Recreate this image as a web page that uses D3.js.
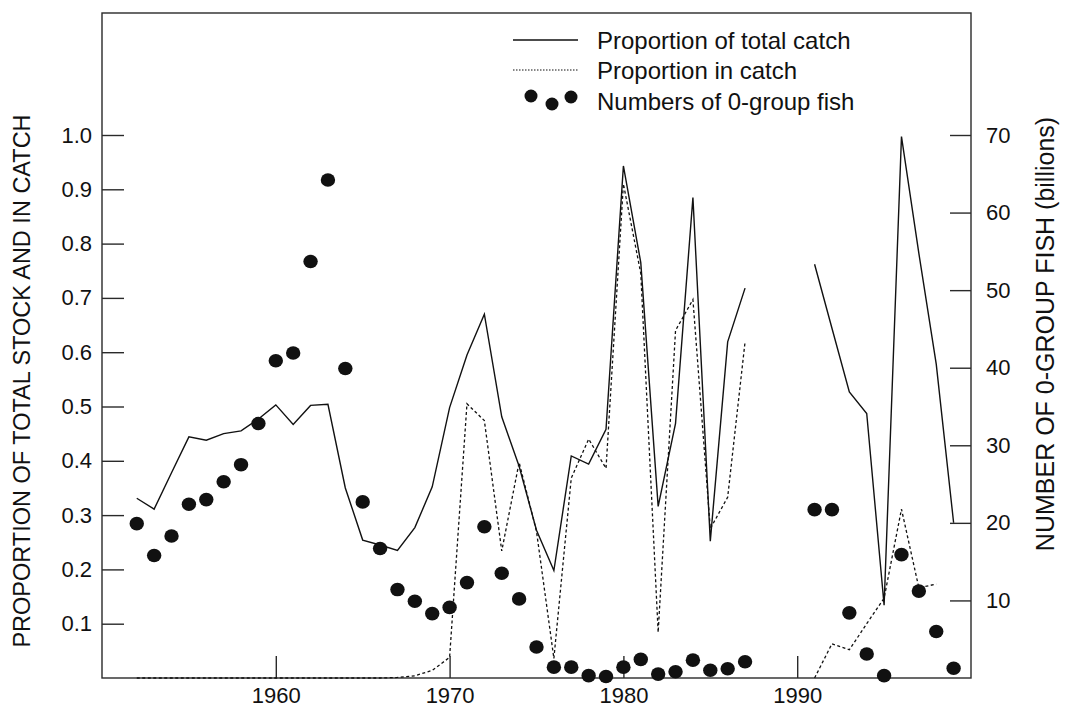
<!DOCTYPE html>
<html>
<head>
<meta charset="utf-8">
<script src="https://cdn.jsdelivr.net/npm/d3@7"></script>
<style>
  html, body { margin: 0; padding: 0; background: #fff; }
  svg { display: block; font-family: "Liberation Sans", Arial, Helvetica, sans-serif; }
</style>
</head>
<body>
<div id="chart"></div>
<script>
// Years covered by the series (gap 1988-1990 has no data)
const years = [1952, 1953, 1954, 1955, 1956, 1957, 1958, 1959, 1960, 1961,
  1962, 1963, 1964, 1965, 1966, 1967, 1968, 1969, 1970, 1971,
  1972, 1973, 1974, 1975, 1976, 1977, 1978, 1979, 1980, 1981,
  1982, 1983, 1984, 1985, 1986, 1987, 1988, 1989, 1990, 1991,
  1992, 1993, 1994, 1995, 1996, 1997, 1998, 1999];

// Proportion of total catch (solid line, left axis)
const totalCatch = [0.331, 0.311, 0.378, 0.444, 0.438, 0.450, 0.455, 0.477, 0.503, 0.467,
  0.502, 0.504, 0.350, 0.254, 0.245, 0.235, 0.277, 0.352, 0.498, 0.595,
  0.670, 0.481, 0.390, 0.272, 0.198, 0.409, 0.394, 0.458, 0.943, 0.765,
  0.316, 0.469, 0.885, 0.252, 0.619, 0.718, null, null, null, 0.762,
  0.644, 0.527, 0.487, 0.134, 0.997, 0.782, 0.578, 0.286];

// Proportion in catch (dotted line, left axis)
const inCatch = [0, 0, 0, 0, 0, 0, 0, 0, 0, 0,
  0, 0, 0, 0, 0, 0.001, 0.004, 0.014, 0.038, 0.505,
  0.474, 0.234, 0.397, 0.270, 0.036, 0.368, 0.440, 0.386, 0.910, 0.745,
  0.084, 0.640, 0.697, 0.275, 0.333, 0.619, null, null, null, 0.0,
  0.063, 0.052, 0.100, 0.147, 0.311, 0.166, 0.173, null];

// Numbers of 0-group fish in billions (dots, right axis)
const fish0 = [19.9, 15.8, 18.3, 22.4, 23.0, 25.3, 27.5, 32.8, 40.9, 41.9,
  53.7, 64.2, 39.9, 22.7, 16.7, 11.4, 9.9, 8.3, 9.1, 12.3,
  19.5, 13.5, 10.2, 4.0, 1.4, 1.4, 0.3, 0.2, 1.4, 2.4,
  0.5, 0.8, 2.3, 1.0, 1.2, 2.1, null, null, null, 21.7,
  21.7, 8.4, 3.1, 0.3, 15.9, 11.2, 6.0, 1.25];

// Tick values
const xTicks = [1960, 1970, 1980, 1990];
const leftTicks = [0.1, 0.2, 0.3, 0.4, 0.5, 0.6, 0.7, 0.8, 0.9, 1.0];
const rightTicks = [10, 20, 30, 40, 50, 60, 70];

const legendLabels = ['Proportion of total catch', 'Proportion in catch', 'Numbers of 0-group fish'];

const W = 1067, H = 709;
const m = { l: 102, r: 971, t: 13, b: 678 };
const ink = '#111', axisInk = '#2a2a2a';

const svg = d3.select('#chart').append('svg').attr('width', W).attr('height', H);

const x = d3.scaleLinear().domain([1950, 2000]).range([m.l, m.r]);
const yL = d3.scaleLinear().domain([0, 1]).range([m.b, 135]);
const yR = d3.scaleLinear().domain([0, 70]).range([m.b, 135]);

// Frame
svg.append('rect')
  .attr('x', m.l).attr('y', m.t)
  .attr('width', m.r - m.l).attr('height', m.b - m.t)
  .attr('fill', 'none').attr('stroke', axisInk).attr('stroke-width', 1.4);

// Axes (ticks point inward)
function styleAxis(g) {
  g.select('.domain').remove();
  g.selectAll('line').attr('stroke', axisInk).attr('stroke-width', 1.4);
  g.selectAll('text').attr('fill', ink).style('font-size', '22px');
}

svg.append('g').attr('transform', `translate(${m.l},0)`)
  .call(d3.axisLeft(yL).tickValues(leftTicks).tickSize(-22).tickPadding(10).tickFormat(d3.format('.1f')))
  .call(styleAxis);

svg.append('g').attr('transform', `translate(${m.r},0)`)
  .call(d3.axisRight(yR).tickValues(rightTicks).tickSize(-21).tickPadding(15).tickFormat(d3.format('d')))
  .call(styleAxis);

svg.append('g').attr('transform', `translate(0,${m.b})`)
  .call(d3.axisBottom(x).tickValues(xTicks).tickSize(-22).tickPadding(9).tickFormat(d3.format('d')))
  .call(styleAxis);

// Axis titles
svg.append('text')
  .attr('transform', `translate(22,381) rotate(-90)`)
  .attr('text-anchor', 'middle').attr('dominant-baseline', 'central')
  .attr('fill', ink).style('font-size', '23.5px')
  .text('PROPORTION OF TOTAL STOCK AND IN CATCH');

svg.append('text')
  .attr('transform', `translate(1045,334) rotate(-90)`)
  .attr('text-anchor', 'middle').attr('dominant-baseline', 'central')
  .attr('fill', ink).style('font-size', '25px')
  .text('NUMBER OF 0-GROUP FISH (billions)');

// Series
const rows = years.map((yr, i) => ({ yr, tc: totalCatch[i], ic: inCatch[i], f: fish0[i] }));

const lineTC = d3.line().defined(d => d.tc != null).x(d => x(d.yr)).y(d => yL(d.tc));
const lineIC = d3.line().defined(d => d.ic != null).x(d => x(d.yr)).y(d => yL(d.ic));

svg.append('path').datum(rows)
  .attr('d', lineIC)
  .attr('fill', 'none').attr('stroke', ink).attr('stroke-width', 1.3)
  .attr('stroke-dasharray', '3,2.5');

svg.append('path').datum(rows)
  .attr('d', lineTC)
  .attr('fill', 'none').attr('stroke', ink).attr('stroke-width', 1.4);

svg.selectAll('ellipse.fish').data(rows.filter(d => d.f != null)).enter().append('ellipse')
  .attr('class', 'fish')
  .attr('cx', d => x(d.yr))
  .attr('cy', d => yR(d.f))
  .attr('rx', 7.2).attr('ry', 6.8)
  .attr('fill', ink);

// Legend
const lg = svg.append('g');
lg.append('line').attr('x1', 513).attr('x2', 578).attr('y1', 40).attr('y2', 40)
  .attr('stroke', ink).attr('stroke-width', 1.3);
lg.append('line').attr('x1', 513).attr('x2', 578).attr('y1', 70).attr('y2', 70)
  .attr('stroke', ink).attr('stroke-width', 1.2).attr('stroke-dasharray', '1.5,1.5');
[[531, 96], [552, 104], [571, 97]].forEach(p => {
  lg.append('circle').attr('cx', p[0]).attr('cy', p[1]).attr('r', 6.5).attr('fill', ink);
});
legendLabels.forEach((t, i) => {
  lg.append('text')
    .attr('x', 597).attr('y', [40, 70, 101][i])
    .attr('dominant-baseline', 'central')
    .attr('fill', ink).style('font-size', '24px')
    .text(t);
});
</script>
</body>
</html>
